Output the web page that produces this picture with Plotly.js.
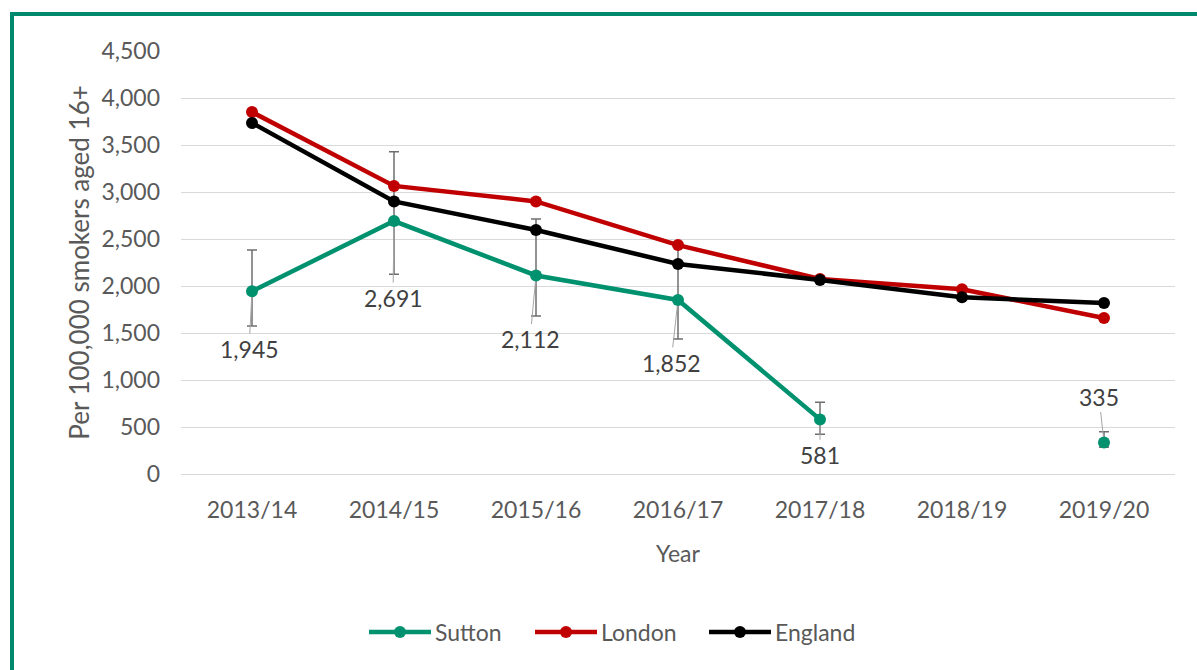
<!DOCTYPE html>
<html>
<head>
<meta charset="utf-8">
<script src="https://cdn.plot.ly/plotly-3.0.1.min.js"></script>
<style>
  html, body { margin: 0; padding: 0; background: #fff; overflow: hidden; }
  #wrap { position: relative; width: 1197px; height: 670px; }
  #chart { position: absolute; left: 0; top: 0; width: 1197px; height: 670px; }
  #frame { position: absolute; left: 10px; top: 12px; width: 1220px; height: 700px;
           border: 4px solid #00896c; box-sizing: border-box; pointer-events: none; }
</style>
</head>
<body>
<div id="wrap">
  <div id="chart"></div>
  <div id="frame"></div>
</div>
<script>
const years = ["2013/14", "2014/15", "2015/16", "2016/17", "2017/18", "2018/19", "2019/20"];
const sutton = [1945, 2691, 2112, 1852, 581, null, 335];
const suttonErrPlus = [438, 738, 601, 560, 182, null, 114];
const suttonErrMinus = [371, 567, 431, 416, 159, null, 50];
const london = [3850, 3065, 2900, 2435, 2075, 1965, 1660];
const england = [3735, 2900, 2595, 2235, 2065, 1880, 1820];
const suttonLabels = ["1,945", "2,691", "2,112", "1,852", "581", "", "335"];
const seriesNames = ["Sutton", "London", "England"];
const seriesColors = ["#00916f", "#c00000", "#000000"];

const FONT = "Lato, 'Open Sans', sans-serif";
const TXT = "#595959";
const FS = 23;

const labelOffsets = [[-3, 58], [-1, 77], [-6, 64], [-7, 63], [0, 36], [0, 0], [-5, -46]];

const seriesY = [sutton, london, england];
const traces = seriesY.map((vals, k) => {
  const t = {
    name: seriesNames[k], x: years, y: vals, type: "scatter", mode: "lines+markers",
    line: { color: seriesColors[k], width: 4.5 },
    marker: { color: seriesColors[k], size: 12 },
    connectgaps: false, showlegend: false
  };
  if (k === 0) {
    t.error_y = { type: "data", symmetric: false, array: suttonErrPlus, arrayminus: suttonErrMinus,
                  color: "#6f6f6f", thickness: 1.5, width: 5 };
  }
  return t;
});

const annotations = [];
years.forEach((yr, i) => {
  if (sutton[i] === null) return;
  annotations.push({
    x: yr, y: sutton[i], xref: "x", yref: "y",
    text: suttonLabels[i],
    showarrow: true, arrowhead: 0, arrowwidth: 1, arrowcolor: "#a6a6a6",
    ax: labelOffsets[i][0], ay: labelOffsets[i][1], standoff: 6,
    font: { family: FONT, size: FS, color: "#404040" }
  });
});

// manual legend (long line symbols like the original)
const M = { l: 181, r: 22, t: 51, b: 196 };
const W = 1197, H = 670;
const pw = W - M.l - M.r, ph = H - M.t - M.b;
const px = v => (v - M.l) / pw;
const py = v => (H - M.b - v) / ph;
const legendY = 632;
const legendStarts = [369, 535, 709];
const shapes = [];
seriesNames.forEach((nm, k) => {
  const x0 = legendStarts[k], x1 = x0 + 62, xm = (x0 + x1) / 2;
  shapes.push({ type: "line", xref: "paper", yref: "paper", x0: px(x0), x1: px(x1), y0: py(legendY), y1: py(legendY),
                line: { color: seriesColors[k], width: 4.5 } });
  shapes.push({ type: "circle", xref: "paper", yref: "paper", x0: px(xm - 6), x1: px(xm + 6),
                y0: py(legendY + 6), y1: py(legendY - 6), fillcolor: seriesColors[k], line: { width: 0 } });
  annotations.push({ xref: "paper", yref: "paper", x: px(x1 + 2), y: py(legendY), xanchor: "left", yanchor: "middle",
                     text: nm, showarrow: false, font: { family: FONT, size: FS, color: TXT } });
});

const layout = {
  width: W, height: H,
  margin: M,
  paper_bgcolor: "rgba(0,0,0,0)", plot_bgcolor: "#fff",
  font: { family: FONT, size: FS, color: TXT },
  showlegend: false,
  xaxis: {
    type: "category", range: [-0.5, 6.5],
    showgrid: false, showline: true, linecolor: "#d9d9d9", linewidth: 1,
    ticks: "", ticklabelstandoff: 15,
    tickfont: { family: FONT, size: FS, color: TXT },
    title: { text: "Year", font: { family: FONT, size: FS, color: TXT }, standoff: 24 }
  },
  yaxis: {
    range: [0, 4500], dtick: 500, tickformat: ",",
    showgrid: true, gridcolor: "#d9d9d9", gridwidth: 1, zeroline: false, showline: false,
    ticks: "", ticklabelstandoff: 20,
    tickfont: { family: FONT, size: FS, color: TXT },
    title: { text: "Per 100,000 smokers aged 16+", font: { family: FONT, size: 26, color: TXT }, standoff: 4 }
  },
  shapes: shapes,
  annotations: annotations
};

Plotly.newPlot("chart", traces, layout, { displayModeBar: false, staticPlot: true });
</script>
</body>
</html>
